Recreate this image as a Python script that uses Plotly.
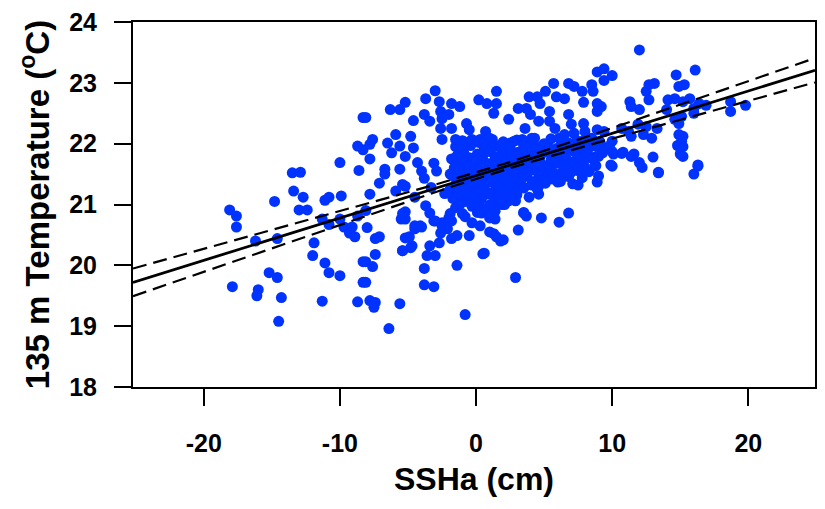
import numpy as np
import plotly.graph_objects as go

# ---- data (SSHa in cm, 135 m temperature in deg C) ----
left_x = [-18.1, -17.6, -17.6, -16.2, -14.6, -17.9, -16.0, -16.1, -14.3, -14.5, -15.2, -14.6,
          -14.8, -13.5, -12.9, -13.4, -12.7, -13.0, -12.4, -11.3, -10.8, -11.9, -12.0, -11.1,
          -10.8, -10.0, -11.3, -11.1, -10.8, -9.9, -10.0, -9.7, -9.1, -9.3, -8.9, -8.7,
          -8.3, -8.3, -8.7, -8.3, -8.7, -10.0, -8.6, -8.3]
left_y = [20.91, 20.81, 20.63, 20.40, 20.44, 19.65, 19.60, 19.50, 19.47, 19.08, 19.88, 19.80,
          21.05, 21.52, 21.53, 21.22, 21.12, 20.91, 20.91, 20.76, 20.67, 20.37, 20.16, 20.04,
          19.88, 19.83, 19.41, 21.07, 21.12, 21.14, 20.76, 20.63, 20.63, 20.53, 20.47, 20.81,
          20.06, 19.72, 19.40, 22.43, 21.96, 21.69, 21.56, 21.90]

lower_x = [-8.0, -7.4, -7.1, -7.4, -8.1, -7.6, -8.1, -7.8, -7.4, -7.5, -5.6, -6.4,
           -5.4, -4.8, -4.9, -4.5, -4.0, -5.5, -5.2, -3.4, -3.0, -3.8, -3.8, -3.1,
           -1.4, -0.8, 0.5, 2.9, 3.1, 1.0, 1.5, 2.0, 4.8, 6.1, 6.8, 3.5, 3.7,
           -3.0, -2.5, -2.1, -1.8, -1.9, 1.4, 1.3, 0.3, -0.8,
           -3.7, -3.4, -3.1, -2.5, -2.0, -2.6, -5.4, -5.2, -4.5, -4.1, -5.2, -4.7,
           -5.4, -2.7, -3.6, -1.8, -1.4, -0.5, -0.3, -1.5, -1.0, -0.3, 0.2, 0.4,
           1.0, 1.4, 2.1, 2.9, 3.5, 0.6, 1.3, 1.8, 4.6, 5.2, 6.0, 7.5]
lower_y = [20.62, 20.44, 20.47, 20.18, 20.06, 19.98, 19.72, 19.42, 19.39, 19.31, 19.37, 18.96,
           20.24, 20.29, 20.47, 20.60, 20.63, 20.76, 20.88, 20.32, 20.16, 19.95, 19.68, 19.65,
           20.00, 19.19, 20.19, 19.80, 20.58, 20.55, 20.47, 20.42, 20.78, 20.71, 20.86, 20.87, 20.81,
           20.73, 20.65, 20.60, 20.73, 20.85, 20.76, 20.93, 20.65, 20.80,
           20.98, 20.86, 20.73, 20.70, 20.78, 20.53, 20.85, 20.76, 20.65, 20.65, 20.45, 20.32,
           20.24, 20.37, 20.16, 20.44, 20.49, 20.49, 20.70, 21.19, 21.09, 21.02, 20.98, 20.86,
           20.78, 20.89, 21.00, 21.06, 20.86, 20.20, 20.52, 20.40, 21.17, 21.42, 21.37, 21.32]

mid_x = [-5.2, -4.3, -3.1, -2.9, -4.0, -3.8, -6.7, -6.7, -5.6, -5.4, -5.9, -5.2, -4.5,
         -7.8, -1.9, -8.1, -7.8, -7.1, -6.2, -4.6, -3.3, -2.3]
mid_y = [21.79, 21.69, 21.68, 21.55, 21.55, 21.43, 21.58, 21.50, 21.58, 21.33, 21.22, 21.30, 21.12,
         21.17, 21.50, 20.90, 21.75, 21.35, 21.85, 21.93, 21.28, 21.18]

core_x = [-1.0, 0.2, 1.2, 2.0, 3.0, 4.2, 5.5, 6.3, 7.4, 8.2, 9.1,
          -1.5, -0.4, 0.6, 1.6, 2.5, 3.5, 4.8, 5.9, 6.9, 7.7, 8.6, 9.5,
          -0.9, 0.1, 1.0, 2.1, 3.1, 4.0, 5.2, 6.2, 7.2, 8.1, 9.3,
          -1.8, -0.5, 0.5, 1.4, 2.5, 3.4, 4.4, 5.5, 6.6, 7.5, 8.4,
          -1.2, -0.1, 0.9, 1.9, 2.9, 3.8, 4.9, 5.9, 7.0, 7.9, 8.8,
          -0.7, 0.3, 1.3, 2.3, 3.2, 4.2, 5.3, 6.3, 7.4, 8.3,
          -1.6, -0.3, 0.7, 1.7, 2.6, 3.6, 4.6, 5.6, 6.8, 7.8,
          -1.0, 0.0, 1.1, 2.1, 3.0, 4.1, 5.1, 6.2, 7.1,
          -1.9, -0.6, 0.4, 1.5, 2.5, 3.5, 4.5,
          -1.3, -0.2, 0.9, 2.0, 3.0, 3.9,
          -0.8, 0.3, 1.3, 2.4,
          -1.5, -0.3, 0.8, -1.0, 0.1,
          -0.4, 0.7, 1.8, 2.7, 3.3, 4.5, 5.0, 6.6, 7.0, 8.0, -1.3, 0.4, 1.4, 2.2]
core_y = [22.05, 22.02, 22.07, 22.03, 22.06, 22.04, 22.08, 22.02, 22.05, 22.06, 22.03,
          21.95, 21.97, 21.93, 21.96, 21.94, 21.97, 21.95, 21.92, 21.96, 21.94, 21.97, 21.93,
          21.85, 21.83, 21.87, 21.84, 21.86, 21.82, 21.86, 21.84, 21.87, 21.83, 21.85,
          21.75, 21.77, 21.73, 21.76, 21.74, 21.78, 21.75, 21.72, 21.76, 21.74, 21.77,
          21.65, 21.63, 21.67, 21.64, 21.66, 21.62, 21.65, 21.68, 21.63, 21.66, 21.64,
          21.55, 21.57, 21.53, 21.56, 21.54, 21.57, 21.55, 21.52, 21.56, 21.54,
          21.45, 21.47, 21.43, 21.46, 21.44, 21.47, 21.45, 21.42, 21.46, 21.44,
          21.35, 21.33, 21.37, 21.34, 21.36, 21.32, 21.35, 21.38, 21.34,
          21.25, 21.27, 21.23, 21.26, 21.24, 21.27, 21.25,
          21.15, 21.13, 21.17, 21.14, 21.16, 21.12,
          21.05, 21.07, 21.03, 21.06,
          20.95, 20.97, 20.93, 20.85, 20.87,
          21.60, 21.50, 21.70, 21.58, 21.40, 21.88, 21.60, 21.48, 21.90, 21.58, 21.80, 21.20, 21.22, 21.30]

core2_x = [-0.5, 0.7, 2.5, 3.7, 5.0, 6.8, 8.7,
           -1.0, 1.1, 2.0, 4.3, 5.4, 6.4, 8.2,
           -1.4, 0.5, 1.6, 2.6, 3.6, 4.7, 5.8, 7.7, 8.8,
           -0.9, 0.0, 2.1, 3.1, 4.0, 6.1, 7.1,
           -1.6, -0.5, 1.4, 2.4, 3.4, 4.4, 5.5, 6.6, 7.5,
           -1.1, 0.8, 1.8, 2.8, 3.8, 4.8, 5.8, 6.9,
           -0.8, 0.3, 1.2, 2.2, 3.1, 4.1, 5.0, 6.0,
           -1.4, -0.4, 0.6, 1.6, 2.6, 3.5, 4.6,
           -1.0, 0.0, 1.0, 2.0, 3.0,
           -1.7, -0.6, 0.4, 1.5, 2.5,
           -1.2, -0.1, 1.0, 1.9]
core2_y = [22.00, 21.99, 22.01, 21.98, 22.00, 22.01, 21.99,
           21.90, 21.91, 21.89, 21.90, 21.92, 21.88, 21.90,
           21.80, 21.81, 21.79, 21.80, 21.82, 21.78, 21.80, 21.81, 21.79,
           21.70, 21.71, 21.69, 21.70, 21.72, 21.68, 21.70,
           21.60, 21.61, 21.59, 21.60, 21.62, 21.58, 21.60, 21.61, 21.59,
           21.50, 21.51, 21.49, 21.50, 21.52, 21.48, 21.50, 21.51,
           21.40, 21.41, 21.39, 21.40, 21.42, 21.38, 21.40, 21.41,
           21.30, 21.31, 21.29, 21.30, 21.32, 21.28, 21.30,
           21.20, 21.21, 21.19, 21.20, 21.22,
           21.10, 21.11, 21.09, 21.10, 21.12,
           21.00, 21.01, 20.99, 21.00]

upper_x = [-8.1, -6.3, -5.6, -5.2, -4.6, -3.7, -3.0, -2.7, -2.6, -2.5, -2.0, -1.8, -1.2,
           -0.7, -0.5, 0.2, 0.8, 1.5, 1.5, 1.3, 2.4, 3.1, 3.7, 3.9, 4.0, 3.6,
           -7.6, -7.8, -6.5, -5.9, -4.8, -5.6, -3.8, -3.4, -2.6, -2.5, -1.8, -1.5,
           -1.0, -0.3, 0.3, 0.7, 1.0, 2.8, 3.4, 4.1,
           5.7, 5.1, 6.8, 7.2, 7.8, 8.5, 8.6, 8.9, 8.9, 9.2, 7.9, 6.5, 5.9, 4.7, 4.5,
           5.4, 4.6, 5.4, 5.8, 6.8, 7.0, 7.9, 4.3, 6.1, 6.5, 7.2, 8.0, 8.9, 9.4, 10.0,
           6.8, 7.8, 8.5]
upper_y = [22.43, 22.56, 22.56, 22.68, 22.38, 22.74, 22.87, 22.69, 22.53, 22.41, 22.48, 22.66, 22.61,
           22.33, 22.23, 22.72, 22.66, 22.86, 22.66, 22.50, 22.40, 22.58, 22.58, 22.77, 22.48, 22.25,
           22.07, 21.99, 22.01, 22.15, 22.12, 21.96, 22.48, 22.37, 22.25, 22.07, 22.25, 22.07,
           22.04, 22.07, 22.07, 22.20, 22.09, 22.04, 22.07, 22.09,
           22.99, 22.86, 22.99, 22.94, 22.86, 22.97, 22.86, 22.66, 22.53, 22.61, 22.68, 22.74, 22.77, 22.66, 22.77,
           22.53, 22.37, 22.37, 22.25, 22.48, 22.32, 22.33, 22.09, 22.09, 22.15, 22.17, 22.20, 22.23, 22.20, 22.04,
           21.99, 22.04, 22.09]

right_x = [12.0, 8.9, 9.4, 9.4, 10.0, 14.7, 16.1, 12.7, 13.1, 12.5, 12.7, 11.3, 11.4, 12.0,
           14.1, 14.6, 15.2, 15.3, 14.9, 15.7, 16.0, 16.4, 14.0, 14.6, 15.1, 14.9,
           10.7, 11.2, 11.9, 12.5, 13.3, 12.3, 11.4, 14.9, 15.1, 12.9,
           18.7, 18.7, 19.8, 16.9, 16.0, 15.2, 14.8, 15.0, 15.2, 16.3, 16.0, 13.4, 13.0,
           12.0, 11.4, 10.8, 9.8, 10.1, 10.0, 8.9, 9.0, 8.7, 9.0, 8.9, 12.2, 11.6, 10.7, 10.0,
           9.9, 13.4, 15.2, 16.3]
right_y = [23.54, 23.18, 23.23, 23.04, 23.12, 23.13, 23.21, 22.97, 22.99, 22.86, 22.72, 22.69, 22.61, 22.56,
           22.72, 22.74, 22.69, 22.97, 22.94, 22.74, 22.58, 22.66, 22.56, 22.40, 22.45, 22.33,
           22.25, 22.20, 22.32, 22.28, 22.25, 22.15, 22.12, 22.15, 22.04, 22.09,
           22.69, 22.53, 22.63, 22.63, 22.50, 22.12, 21.97, 21.83, 21.79, 21.63, 21.50, 21.53, 21.78,
           21.69, 21.79, 21.86, 21.96, 21.83, 21.63, 21.96, 21.79, 21.63, 21.47, 21.37, 21.61, 21.83, 21.84, 21.87,
           21.65, 21.52, 21.95, 21.65]

# axis ticks
x_tickvals = [-20, -10, 0, 10, 20]
x_ticktext = ["-20", "-10", "0", "10", "20"]
y_tickvals = [18, 19, 20, 21, 22, 23, 24]

# regression line and 95% confidence band
fit_intercept = 21.474
fit_slope = 0.0696
band_center_x = 1.5
band_min_half = 0.05
band_growth = 0.0083
line_x_range = [-25.2, 24.9]

ssha = np.array(left_x + lower_x + mid_x + core_x + core2_x + upper_x + right_x)
temp = np.array(left_y + lower_y + mid_y + core_y + core2_y + upper_y + right_y)

xl = np.linspace(line_x_range[0], line_x_range[1], 201)
yl = fit_intercept + fit_slope * xl
hw = np.sqrt(band_min_half ** 2 + (band_growth * (xl - band_center_x)) ** 2)

fig = go.Figure()
fig.add_trace(go.Scatter(x=ssha, y=temp, mode="markers",
                         marker=dict(size=11, color="#0033ff", line=dict(width=0)),
                         showlegend=False))
fig.add_trace(go.Scatter(x=xl, y=yl + hw, mode="lines",
                         line=dict(color="black", width=2.2, dash="14px,7px"), showlegend=False))
fig.add_trace(go.Scatter(x=xl, y=yl - hw, mode="lines",
                         line=dict(color="black", width=2.2, dash="14px,7px"), showlegend=False))
fig.add_trace(go.Scatter(x=xl, y=yl, mode="lines",
                         line=dict(color="black", width=2.8), showlegend=False))

font_family = "Liberation Sans, Arial, sans-serif"
fig.update_layout(
    width=825, height=509,
    margin=dict(l=133, r=8, t=20, b=122),
    paper_bgcolor="white", plot_bgcolor="white",
    font=dict(family=font_family, color="black"),
)
fig.update_xaxes(
    range=line_x_range, tickvals=x_tickvals, ticktext=x_ticktext,
    showline=True, linecolor="black", linewidth=2, mirror=True,
    ticks="outside", ticklen=17, tickwidth=2, tickcolor="black",
    showgrid=False, zeroline=False,
    tickfont=dict(size=25, family=font_family, weight="bold"),
    ticklabelstandoff=16,
    title=dict(text="SSHa (cm)", font=dict(size=32, family=font_family, weight="bold"), standoff=12),
)
fig.update_yaxes(
    range=[18, 24], tickvals=y_tickvals,
    showline=True, linecolor="black", linewidth=2, mirror=True,
    ticks="outside", ticklen=17, tickwidth=2, tickcolor="black",
    showgrid=False, zeroline=False,
    tickfont=dict(size=25, family=font_family, weight="bold"),
    ticklabelstandoff=12,
    title=dict(text="135 m Temperature (<sup>o</sup>C)",
               font=dict(size=33, family=font_family, weight="bold"), standoff=10),
)

fig.write_html("out.html")
